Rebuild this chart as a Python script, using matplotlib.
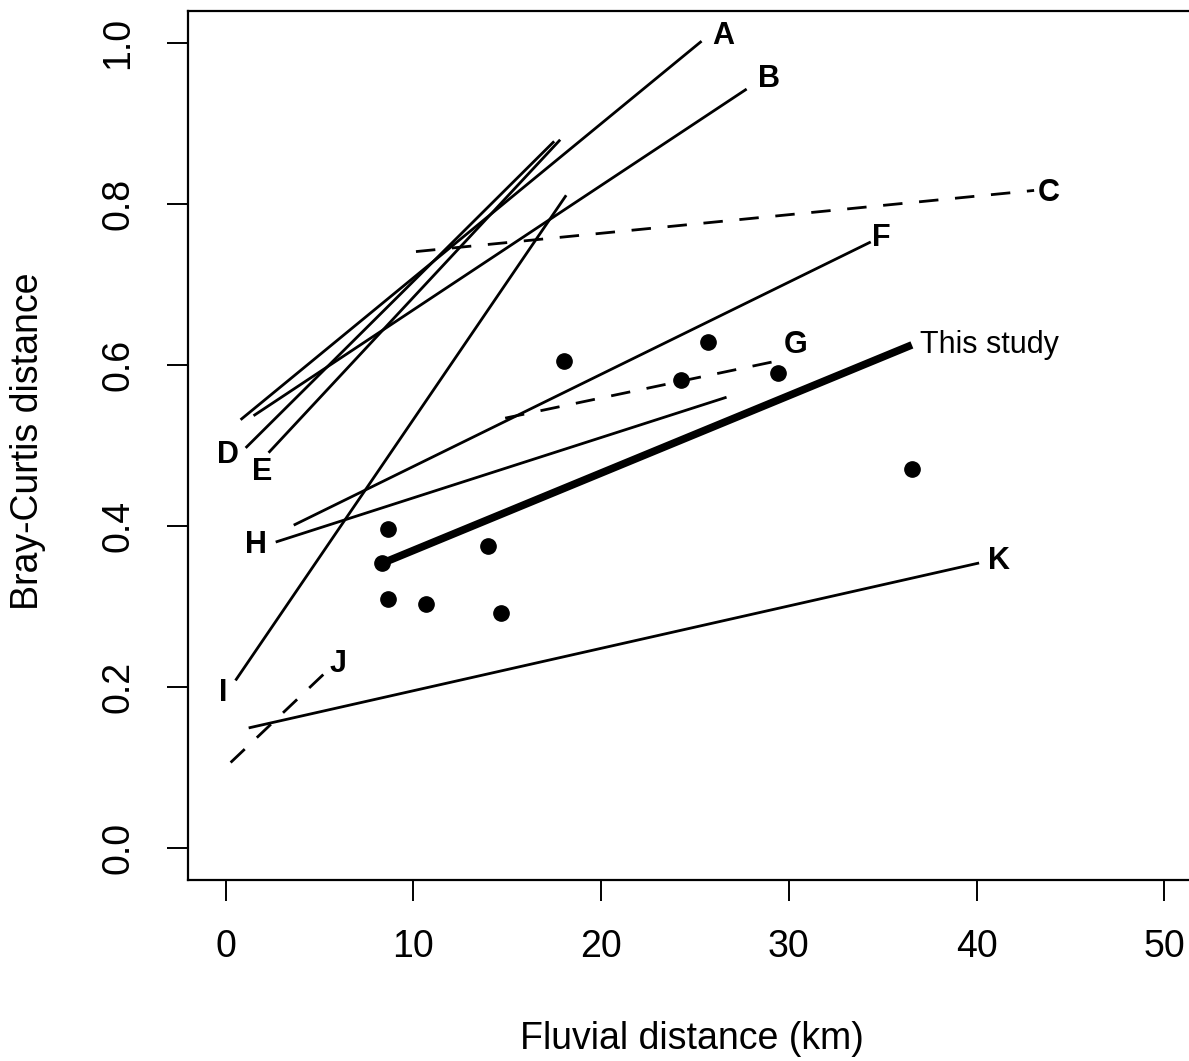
import matplotlib
matplotlib.use("Agg")
import matplotlib.pyplot as plt

plt.rcParams['font.family'] = ['Liberation Sans', 'DejaVu Sans']

# literature regression lines: (x0, y0, x1, y1)
names = ['A', 'B', 'C', 'D', 'E', 'F', 'G', 'H', 'I', 'J', 'K']
x_start = [0.80, 1.49, 10.14, 1.07, 2.29, 3.63, 14.89, 2.67, 0.53, 0.27, 1.23]
y_start = [0.532, 0.537, 0.741, 0.497, 0.491, 0.401, 0.534, 0.380, 0.208, 0.106, 0.149]
x_end = [25.35, 27.75, 43.06, 17.50, 17.82, 34.36, 29.56, 26.68, 18.14, 5.28, 40.13]
y_end = [1.0025, 0.943, 0.817, 0.878, 0.880, 0.753, 0.606, 0.560, 0.811, 0.217, 0.354]
dashed = ['C', 'G', 'J']

# label positions for each line
label_x = [26.52, 28.92, 43.86, 0.11, 1.97, 34.9, 30.36, 1.60, -0.11, 5.98, 41.2]
label_y = [1.009, 0.955, 0.814, 0.488, 0.467, 0.758, 0.625, 0.376, 0.192, 0.229, 0.357]

# this study
study_x = [8.38, 36.55]
study_y = [0.354, 0.625]
pts_x = [18.04, 25.67, 24.28, 29.40, 36.55, 8.64, 13.98, 8.35, 8.64, 10.67, 14.67]
pts_y = [0.605, 0.629, 0.5816, 0.590, 0.4707, 0.396, 0.375, 0.3537, 0.3088, 0.3026, 0.2914]

fig = plt.figure(figsize=(11.89, 10.61), dpi=100)
ax = fig.add_axes([188 / 1189, 1 - 880 / 1061, (1202 - 188) / 1189, (880 - 11) / 1061])

for i, n in enumerate(names):
    ls = (0, (7, 6)) if n in dashed else '-'
    ax.plot([x_start[i], x_end[i]], [y_start[i], y_end[i]], color='black', lw=2.0,
            linestyle=ls, solid_capstyle='butt', dash_capstyle='butt')
    ax.text(label_x[i], label_y[i], n, fontsize=22, fontweight='bold',
            ha='center', va='center')

ax.plot(study_x, study_y, color='black', lw=5.5, solid_capstyle='butt')
ax.plot(pts_x, pts_y, 'o', color='black', markersize=11)
ax.text(37.0, 0.625, 'This study', fontsize=22, ha='left', va='center')

ax.set_xlim(-2, 52)
ax.set_ylim(-0.04, 1.04)
ax.set_xticks([0, 10, 20, 30, 40, 50])
ax.set_yticks([0.0, 0.2, 0.4, 0.6, 0.8, 1.0])
ax.set_yticklabels(['0.0', '0.2', '0.4', '0.6', '0.8', '1.0'])
ax.tick_params(axis='both', length=15, width=1.4, labelsize=27, direction='out')
ax.tick_params(axis='x', pad=20)
ax.tick_params(axis='y', pad=22)
for lab in ax.get_yticklabels():
    lab.set_rotation(90)
    lab.set_va('center')
    lab.set_ha('right')
for s in ax.spines.values():
    s.set_linewidth(1.6)

ax.set_xlabel('Fluvial distance (km)', fontsize=27, va='center')
ax.set_ylabel('Bray-Curtis distance', fontsize=27, va='center')
ax.xaxis.set_label_coords(0.497, -0.183)
ax.yaxis.set_label_coords(-0.158, 0.505)

fig.savefig('out.png', dpi=100)
